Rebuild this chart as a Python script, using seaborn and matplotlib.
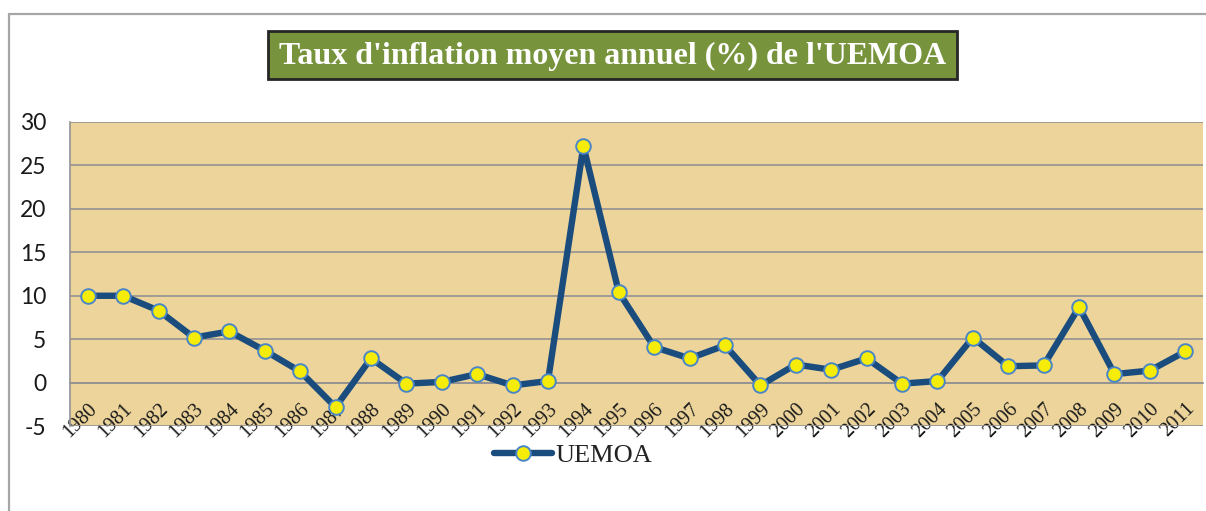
import numpy as np
import pandas as pd
import matplotlib
matplotlib.use("Agg")
import matplotlib.pyplot as plt
from matplotlib.patches import Rectangle
from matplotlib.lines import Line2D
import seaborn as sns

years = [str(y) for y in range(1980, 2012)]
inflation = [10.0, 10.0, 8.3, 5.2, 5.9, 3.7, 1.3, -2.8, 2.8, -0.1,
             0.1, 1.0, -0.3, 0.2, 27.2, 10.4, 4.1, 2.8, 4.3, -0.3,
             2.1, 1.5, 2.8, -0.1, 0.2, 5.2, 1.9, 2.0, 8.7, 1.0,
             1.4, 3.6]
series_name = "UEMOA"
title = "Taux d'inflation moyen annuel (%) de l'UEMOA"
yticks = [-5, 0, 5, 10, 15, 20, 25, 30]

df = pd.DataFrame({"pos": np.arange(len(years)), "val": inflation,
                   "serie": series_name})

sns.set_style("white")
W, H = 1206, 511
fig = plt.figure(figsize=(W / 100, H / 100), dpi=100)
ax = fig.add_axes([70 / W, 1 - 426.3 / H, (1203 - 70) / W, (426.3 - 121.7) / H])

bg = "#ECD49B"
grid_c = "#939393"
line_c = "#1A4C7E"

ax.set_facecolor(bg)
sns.lineplot(data=df, x="pos", y="val", ax=ax, color=line_c, linewidth=4.6,
             marker="o", markersize=10.5, markerfacecolor="#F5EC0A",
             markeredgecolor="#4A86C6", markeredgewidth=1.4,
             label=series_name, legend=False, zorder=5)

ax.set_xlim(-0.5, len(years) - 0.5)
ax.set_ylim(-5, 30)
ax.set_yticks(yticks)
ax.set_yticklabels([str(v) for v in yticks])
for v in yticks:
    ax.axhline(v, color=grid_c, lw=1.2, zorder=1)

for s in ["top", "right"]:
    ax.spines[s].set_visible(False)
ax.spines["left"].set_color(grid_c)
ax.spines["left"].set_linewidth(1.2)
ax.spines["bottom"].set_position(("data", 0))
ax.spines["bottom"].set_color(grid_c)
ax.spines["bottom"].set_linewidth(1.2)

ax.set_xticks(np.arange(len(years)))
ax.set_xticklabels(years, rotation=45, ha="right", rotation_mode="anchor",
                   fontfamily="Liberation Serif", fontsize=14.5, color="#1a1a1a")
ax.set_xticks(np.arange(len(years) + 1) - 0.5, minor=True)
ax.tick_params(axis="x", which="major", length=0, pad=12)
ax.tick_params(axis="x", which="minor", length=4, width=1.2, color=grid_c,
               direction="out")
ax.tick_params(axis="y", length=5, width=1.2, color=grid_c, pad=12,
               labelsize=16.5, labelcolor="#1a1a1a")
for lab in ax.get_yticklabels():
    lab.set_fontfamily("Lato")
ax.set_xlabel("")
ax.set_ylabel("")

# legend
handle = Line2D([], [], color=line_c, linewidth=4.6, marker="o", markersize=10.5,
                markerfacecolor="#F5EC0A", markeredgecolor="#4A86C6",
                markeredgewidth=1.4)
fig.legend([handle], [series_name], loc="center",
           bbox_to_anchor=(573 / W, 1 - 455 / H), frameon=False,
           prop={"family": "Liberation Serif", "size": 19},
           handlelength=2.2, handletextpad=0.1, labelcolor="#222222")

# outer frame
fig.add_artist(Line2D([9 / W, 1], [1 - 14 / H, 1 - 14 / H], color="#A6A6A6",
                      lw=1.6, transform=fig.transFigure))
fig.add_artist(Line2D([9 / W, 9 / W], [0, 1 - 14 / H], color="#A6A6A6",
                      lw=1.6, transform=fig.transFigure))

# title box
fig.add_artist(Rectangle((268 / W, 1 - 79 / H), (957 - 268) / W, 48 / H,
                         facecolor="#77933C", edgecolor="#262626", lw=2,
                         transform=fig.transFigure))
fig.text(612.5 / W, 1 - 56 / H, title, ha="center", va="center",
         color="white", fontsize=23, fontweight="bold",
         fontfamily="Liberation Serif")

fig.savefig("out.png", dpi=100)
